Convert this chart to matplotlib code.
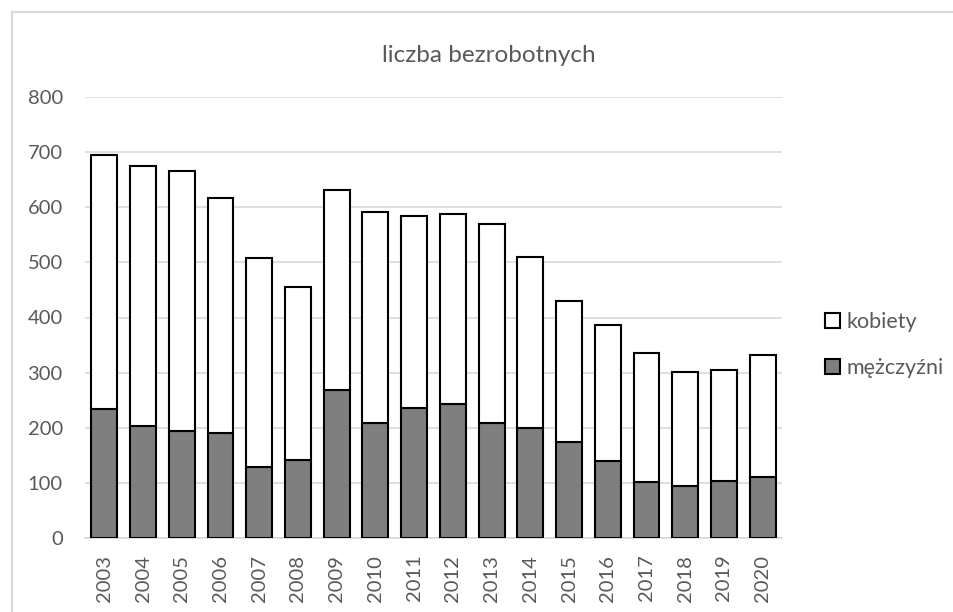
import matplotlib.pyplot as plt
import numpy as np
from matplotlib.patches import Rectangle

# === data ===
years = [str(y) for y in range(2003, 2021)]
total = [695, 675, 666, 617, 508, 456, 632, 592, 584, 588, 570, 510, 430, 387, 336, 301, 305, 332]
men = [234, 204, 194, 190, 129, 141, 268, 209, 236, 243, 208, 199, 174, 140, 102, 94, 104, 111]
women = [t - m for t, m in zip(total, men)]

txt = "#595959"
grid = "#d9d9d9"
plt.rcParams["font.family"] = ["Lato", "DejaVu Sans"]

fig = plt.figure(figsize=(9.54, 6.12), dpi=100)
W, H = 954, 612
# plot area in pixels: x 85..782, y 97..538
ax = fig.add_axes([85 / W, 1 - 538 / H, (782 - 85) / W, (538 - 97) / H])

x = np.arange(len(years))
ax.bar(x, men, width=0.67, color="#7f7f7f", edgecolor="black", linewidth=1.5, label="mężczyźni", zorder=3)
ax.bar(x, women, width=0.67, bottom=men, color="white", edgecolor="black", linewidth=1.5, label="kobiety", zorder=3)

ax.set_xlim(-0.5, len(years) - 0.5)
ax.set_ylim(0, 800)
ax.set_yticks(range(0, 801, 100))
ax.set_xticks(x)
ax.set_xticklabels(years, rotation=90)
ax.tick_params(axis="both", length=0, colors=txt, labelsize=14.5)
ax.tick_params(axis="y", pad=16)
ax.tick_params(axis="x", pad=12)
ax.grid(axis="y", color=grid, linewidth=1.2, zorder=0)
for s in ["top", "right", "left"]:
    ax.spines[s].set_visible(False)
ax.spines["bottom"].set_color(grid)
ax.spines["bottom"].set_linewidth(1.2)

fig.text(489 / W, 1 - 55 / H, "liczba bezrobotnych", ha="center", va="center", color=txt, fontsize=17.5)

handles, labels = ax.get_legend_handles_labels()
leg = fig.legend(handles[::-1], labels[::-1], loc="center left", bbox_to_anchor=(806 / W, 1 - 345 / H),
                 frameon=False, fontsize=15.5, labelcolor=txt, handlelength=0.7, handleheight=0.7,
                 handletextpad=0.3, labelspacing=1.2)

# chart frame (cut at the image edge)
fig.patches.append(Rectangle((12 / W, -0.1), 1.0, 1 - 12 / H + 0.1, transform=fig.transFigure,
                             fill=False, edgecolor=grid, linewidth=1.5))

fig.savefig("out.png", dpi=100)
